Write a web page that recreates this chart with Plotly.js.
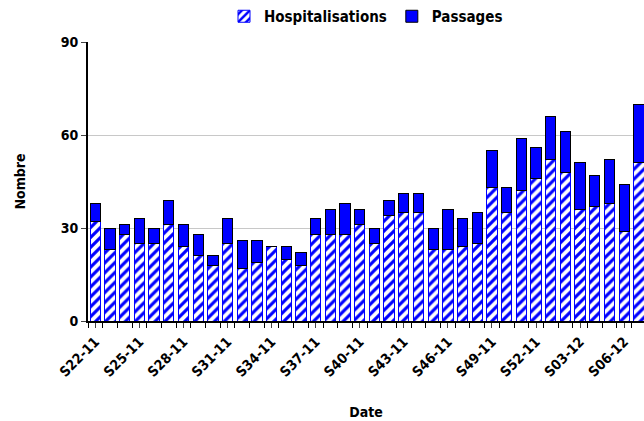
<!DOCTYPE html>
<html><head><meta charset="utf-8">
<script src="https://cdn.plot.ly/plotly-3.0.1.min.js"></script>
<style>body{margin:0;background:#fff}</style>
</head><body>
<div id="chart" style="width:644px;height:421px"></div>
<script>
var weeks = ['S22-11','S23-11','S24-11','S25-11','S26-11','S27-11','S28-11','S29-11','S30-11','S31-11',
  'S32-11','S33-11','S34-11','S35-11','S36-11','S37-11','S38-11','S39-11','S40-11','S41-11',
  'S42-11','S43-11','S44-11','S45-11','S46-11','S47-11','S48-11','S49-11','S50-11','S51-11',
  'S52-11','S01-12','S02-12','S03-12','S04-12','S05-12','S06-12','S07-12'];
var hospit = [32,23,28,25,25,31,24,21,18,25,17,19,24,20,18,28,28,28,31,25,34,35,35,23,23,24,25,43,35,42,46,52,48,36,37,38,29,51];
var totals = [38,30,31,33,30,39,31,28,21,33,26,26,24,24,22,33,36,38,36,30,39,41,41,30,36,33,35,55,43,59,56,66,61,51,47,52,44,70];
var passages = totals.map(function(t,i){return t-hospit[i];});
var idx = weeks.map(function(w,i){return i;});
var shown = idx.filter(function(i){return i%3===0;});

var fam = 'DejaVu Sans Condensed, sans-serif';
var data = [{
  x: idx, y: hospit, type:'bar', name:'Hospitalisations',
  marker:{color:'#ffffff', line:{color:'#0000ff', width:1},
    pattern:{shape:'/', fgcolor:'#0000ff', bgcolor:'#ffffff', size:7, solidity:0.45}}
},{
  x: idx, y: passages, type:'bar', name:'Passages',
  marker:{color:'#0000ff', line:{color:'#000', width:1}}
}];
var layout = {
  barmode:'stack', bargap:0.3,
  width:644, height:421,
  margin:{l:88, r:0, t:42, b:100, autoexpand:false},
  font:{family:fam, size:14, color:'#000', weight:'bold'},
  showlegend:true,
  legend:{orientation:'h', traceorder:'normal', x:0.5, xanchor:'center', yref:'container', y:1.0, yanchor:'top',
    font:{size:15, weight:'bold'}, itemwidth:30},
  xaxis:{range:[-0.5,37.35], tickvals:shown, ticktext:shown.map(function(i){return weeks[i];}),
    tickangle:-45, ticks:'outside', ticklen:5, showline:true, linecolor:'#000', linewidth:2,
    minor:{tick0:0.5, dtick:1, ticks:'outside', ticklen:5, tickcolor:'#000', showgrid:false},
    showgrid:false, zeroline:false, tickfont:{size:14},
    title:{text:'Date', font:{size:14, weight:'bold'}, standoff:28}},
  yaxis:{range:[0,90], tickvals:[0,30,60,90], ticks:'outside', ticklen:5, tickfont:{size:14},
    showline:true, linecolor:'#000', linewidth:2, gridcolor:'#c8c8c8', zeroline:false,
    title:{text:'Nombre', font:{size:14, weight:'bold'}, standoff:32}},
  plot_bgcolor:'#fff', paper_bgcolor:'#fff'
};
Plotly.newPlot('chart', data, layout, {staticPlot:true});
</script>
</body></html>
